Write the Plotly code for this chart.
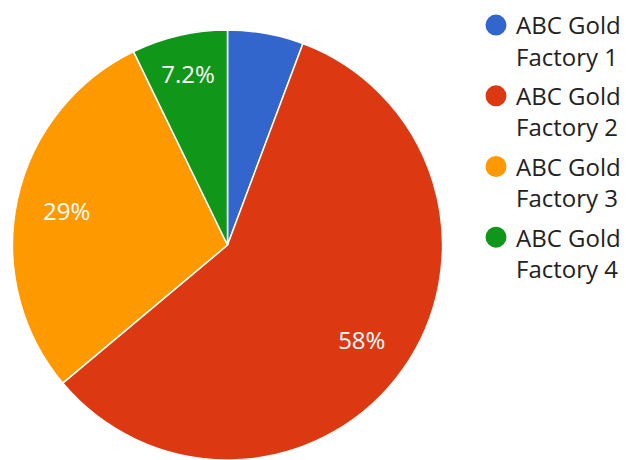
import plotly.graph_objects as go

categories = ["ABC Gold<br>Factory 1", "ABC Gold<br>Factory 2", "ABC Gold<br>Factory 3", "ABC Gold<br>Factory 4"]
values = [5.7, 58.2, 28.9, 7.2]
colors = ["#3366CC", "#DC3912", "#FF9900", "#109618"]
show_label = [False, True, True, True]

W, H = 626, 460
FONT = "Open Sans"
dom = dict(x=[12.5 / W, 442.5 / W], y=[0, 430 / H])

fig = go.Figure()
# coloured slices
fig.add_trace(go.Pie(
    labels=categories,
    values=values,
    sort=False,
    direction="clockwise",
    rotation=0,
    marker=dict(colors=colors, line=dict(color="white", width=1.5)),
    textinfo="none",
    domain=dom,
    showlegend=False,
    hoverinfo="label+percent",
))
# transparent ring carrying the percentage labels (places them further out)
fig.add_trace(go.Pie(
    labels=categories,
    values=values,
    sort=False,
    direction="clockwise",
    rotation=0,
    hole=0.53,
    marker=dict(colors=["rgba(0,0,0,0)"] * len(values), line=dict(width=0)),
    texttemplate=["%{percent:.2p}" if s else "" for s in show_label],
    textposition="inside",
    insidetextorientation="horizontal",
    textfont=dict(family=FONT, size=24, color="white"),
    domain=dom,
    showlegend=False,
    hoverinfo="skip",
))

for i, (name, c) in enumerate(zip(categories, colors)):
    fig.add_trace(go.Scatter(
        x=[None], y=[None], mode="markers", name=name,
        legendgroup=f"g{i}",
        marker=dict(symbol="circle", size=16, color=c, line=dict(color=c, width=5)),
        showlegend=True,
    ))

fig.update_layout(
    width=W, height=H,
    margin=dict(l=0, r=0, t=0, b=0),
    paper_bgcolor="white", plot_bgcolor="white",
    font=dict(family=FONT, size=24, color="#222222"),
    xaxis=dict(visible=False), yaxis=dict(visible=False),
    legend=dict(
        x=1, xanchor="right", y=1 - 3 / H, yanchor="top",
        valign="top", itemsizing="trace",
        font=dict(family=FONT, size=24, color="#222222"),
        bgcolor="rgba(0,0,0,0)", tracegroupgap=5.3,
    ),
)

fig.write_html("out.html", config={"displayModeBar": False},
               post_script="document.body.style.margin='0';")
